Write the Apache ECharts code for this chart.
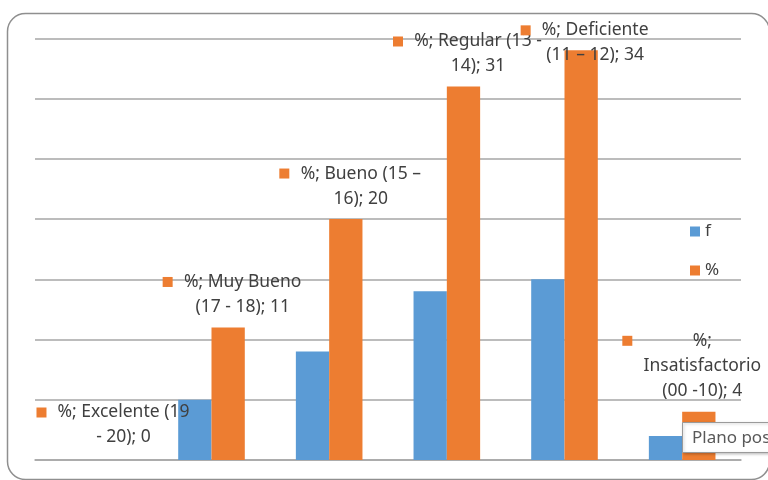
<!DOCTYPE html>
<html>
<head>
<meta charset="utf-8">
<script src="https://cdn.jsdelivr.net/npm/echarts@6/dist/echarts.min.js"></script>
<style>
  html, body { margin: 0; padding: 0; background: #ffffff; }
  #chart { width: 768px; height: 480px; }
</style>
</head>
<body>
<div id="chart"></div>
<script>
// Rating bands and the two series (count f and percentage %)
const categories = [
  'Excelente (19 - 20)',
  'Muy Bueno (17 - 18)',
  'Bueno (15 – 16)',
  'Regular (13 - 14)',
  'Deficiente (11 – 12)',
  'Insatisfactorio (00 -10)'
];
const seriesNames = ['f', '%'];
const fValues = [0, 5, 9, 14, 15, 2];
const pctValues = [0, 11, 20, 31, 34, 4];

// Value axis range and step
const yMin = 0;
const yMax = 35;
const yStep = 5;

// How many words of each data label go on each line
const labelWordsPerLine = [[3, 3], [3, 4], [4, 2], [4, 2], [2, 4], [1, 1, 3]];
// Label block placement: [centre x offset from bar centre, top offset from bar top]
const labelShift = [[13, -60], [14.5, -58], [15, -58], [14.5, -57.5], [14, -32.5], [3.5, -83.5]];

const BLUE = '#5B9BD5';
const ORANGE = '#ED7D31';
const TEXT = '#404040';
const FONT = 'Noto Sans';
const LABEL_SIZE = 17.5;
const LINE_H = 25;
const KEY = 10;     // legend key square in labels
const KEY_GAP = 10; // space between key and text block

const measureCtx = document.createElement('canvas').getContext('2d');
measureCtx.font = LABEL_SIZE + 'px "' + FONT + '"';
function textWidth(s) { return measureCtx.measureText(s).width; }

function labelLines(i) {
  const words = ('%; ' + categories[i] + '; ' + pctValues[i]).split(' ');
  const lines = [];
  let k = 0;
  labelWordsPerLine[i].forEach(function (n) {
    lines.push(words.slice(k, k + n).join(' '));
    k += n;
  });
  return lines;
}

const blockWidths = [];
const pctData = pctValues.map(function (v, i) {
  const lines = labelLines(i);
  const w = Math.ceil(Math.max.apply(null, lines.map(textWidth))) + 2;
  blockWidths.push(w);
  const text = lines.map(function (ln, j) {
    return (j === 0 ? '{m|}{g|}' : '{s|}') + '{t|' + ln + '}';
  }).join('\n');
  return {
    value: v,
    label: {
      show: true,
      formatter: text,
      rich: {
        m: { width: KEY, height: KEY, backgroundColor: ORANGE, lineHeight: LINE_H, verticalAlign: 'middle' },
        g: { width: KEY_GAP, lineHeight: LINE_H },
        s: { width: KEY + KEY_GAP, lineHeight: LINE_H },
        t: { width: w, align: 'center', lineHeight: LINE_H, fontSize: LABEL_SIZE, fontFamily: FONT, color: TEXT }
      }
    }
  };
});

const chart = echarts.init(document.getElementById('chart'), null, { renderer: 'canvas' });

chart.setOption({
  animation: false,
  backgroundColor: '#ffffff',
  textStyle: { fontFamily: FONT, color: TEXT },
  grid: { left: 35, right: 27, top: 38.3, bottom: 20, containLabel: false },
  legend: {
    data: seriesNames,
    orient: 'vertical',
    left: 685,
    top: 218,
    itemWidth: 10,
    itemHeight: 10,
    itemGap: 22,
    icon: 'rect',
    textStyle: { fontSize: 17, color: TEXT, fontFamily: FONT, lineHeight: 16 }
  },
  xAxis: {
    type: 'category',
    data: categories,
    axisLine: { show: true, lineStyle: { color: '#a6a6a6', width: 1.5 } },
    axisTick: { show: false },
    axisLabel: { show: false }
  },
  yAxis: {
    type: 'value',
    min: yMin,
    max: yMax,
    interval: yStep,
    axisLine: { show: false },
    axisTick: { show: false },
    axisLabel: { show: false },
    splitLine: { lineStyle: { color: '#a6a6a6', width: 1.5 } }
  },
  series: [
    {
      name: seriesNames[0],
      type: 'bar',
      data: fValues,
      barWidth: 33.3,
      barGap: '0%',
      itemStyle: { color: BLUE },
      z: 2
    },
    {
      name: seriesNames[1],
      type: 'bar',
      data: pctData,
      barWidth: 33.3,
      barGap: '0%',
      itemStyle: { color: ORANGE },
      label: { show: true, fontFamily: FONT, fontSize: LABEL_SIZE, color: TEXT },
      labelLayout: function (p) {
        const i = p.dataIndex;
        const cx = p.rect.x + p.rect.width / 2;
        return {
          x: cx + labelShift[i][0] - blockWidths[i] / 2 - KEY - KEY_GAP,
          y: p.rect.y + labelShift[i][1],
          align: 'left',
          verticalAlign: 'top'
        };
      },
      z: 3
    }
  ],
  graphic: [
    {
      // rounded chart frame
      type: 'rect',
      silent: true,
      z: 0,
      shape: { x: 7.5, y: 13.5, width: 762, height: 466, r: 18 },
      style: { fill: 'none', stroke: '#8f8f8f', lineWidth: 1.5 }
    },
    {
      // hover hint box over the last column
      type: 'rect',
      z: 100,
      silent: true,
      shape: { x: 682.5, y: 422.5, width: 100, height: 30 },
      style: {
        fill: '#ffffff', stroke: '#9a9a9a', lineWidth: 1,
        shadowBlur: 3, shadowOffsetX: 1, shadowOffsetY: 1, shadowColor: 'rgba(0,0,0,0.25)'
      }
    },
    {
      type: 'text',
      z: 101,
      silent: true,
      style: {
        x: 692, y: 438, text: 'Plano pos', fill: '#595959',
        font: '17px "' + FONT + '"', verticalAlign: 'middle', align: 'left'
      }
    }
  ]
});
</script>
</body>
</html>
